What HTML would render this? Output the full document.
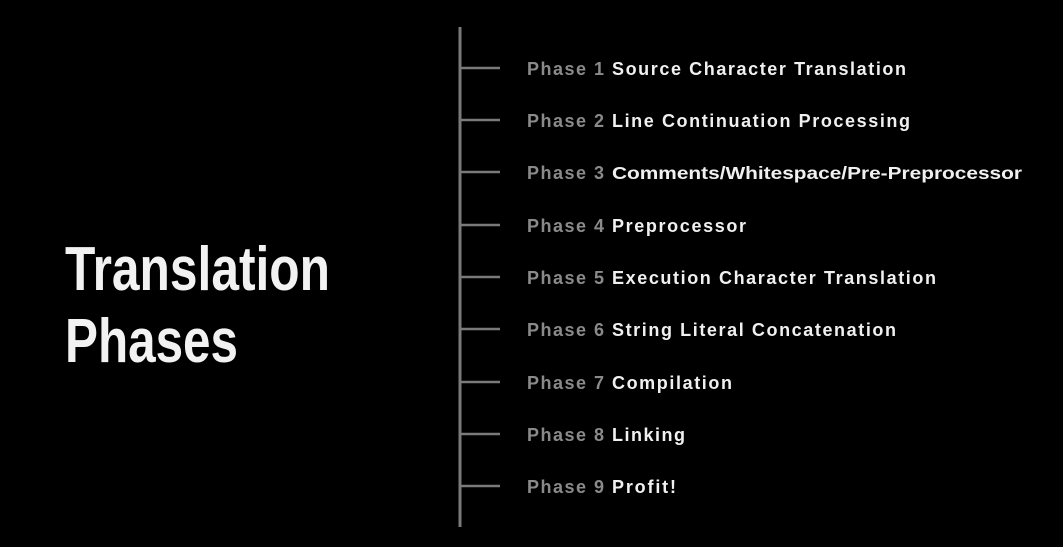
<!DOCTYPE html>
<html><head><meta charset="utf-8"><style>
html,body{margin:0;padding:0;background:#000;}
svg{display:block}
text{font-family:"Liberation Sans",Arial,sans-serif;font-weight:bold;}
</style></head><body>
<svg width="1063" height="547" viewBox="0 0 1063 547">
<rect width="1063" height="547" fill="#000"/>
<text x="65" y="290" font-size="62" fill="#f2f2f2" textLength="265" lengthAdjust="spacingAndGlyphs">Translation</text>
<text x="65" y="362" font-size="62" fill="#f2f2f2" textLength="173" lengthAdjust="spacingAndGlyphs">Phases</text>
<line x1="460" y1="27" x2="460" y2="527" stroke="#7a7a7a" stroke-width="3"/>
<g stroke="#7a7a7a" stroke-width="2.5">
<line x1="460" y1="68" x2="500" y2="68"/>
<line x1="460" y1="120" x2="500" y2="120"/>
<line x1="460" y1="172" x2="500" y2="172"/>
<line x1="460" y1="225" x2="500" y2="225"/>
<line x1="460" y1="277" x2="500" y2="277"/>
<line x1="460" y1="329" x2="500" y2="329"/>
<line x1="460" y1="382" x2="500" y2="382"/>
<line x1="460" y1="434" x2="500" y2="434"/>
<line x1="460" y1="486" x2="500" y2="486"/>
</g>
<g font-size="18" fill="#8a8a8a">
<text x="527" y="75" textLength="77" lengthAdjust="spacing">Phase 1</text>
<text x="527" y="127" textLength="77" lengthAdjust="spacing">Phase 2</text>
<text x="527" y="179" textLength="77" lengthAdjust="spacing">Phase 3</text>
<text x="527" y="232" textLength="77" lengthAdjust="spacing">Phase 4</text>
<text x="527" y="284" textLength="77" lengthAdjust="spacing">Phase 5</text>
<text x="527" y="336" textLength="77" lengthAdjust="spacing">Phase 6</text>
<text x="527" y="389" textLength="77" lengthAdjust="spacing">Phase 7</text>
<text x="527" y="441" textLength="77" lengthAdjust="spacing">Phase 8</text>
<text x="527" y="493" textLength="77" lengthAdjust="spacing">Phase 9</text>
</g>
<g font-size="18" fill="#f0f0f0">
<text x="612" y="75" textLength="294" lengthAdjust="spacing">Source Character Translation</text>
<text x="612" y="127" textLength="298" lengthAdjust="spacing">Line Continuation Processing</text>
<text x="612" y="179" font-size="17.5" textLength="410" lengthAdjust="spacingAndGlyphs">Comments/Whitespace/Pre-Preprocessor</text>
<text x="612" y="232" textLength="134" lengthAdjust="spacing">Preprocessor</text>
<text x="612" y="284" textLength="324" lengthAdjust="spacing">Execution Character Translation</text>
<text x="612" y="336" textLength="284" lengthAdjust="spacing">String Literal Concatenation</text>
<text x="612" y="389" textLength="120" lengthAdjust="spacing">Compilation</text>
<text x="612" y="441" textLength="73" lengthAdjust="spacing">Linking</text>
<text x="612" y="493" textLength="64" lengthAdjust="spacing">Profit!</text>
</g>
</svg>
</body></html>
